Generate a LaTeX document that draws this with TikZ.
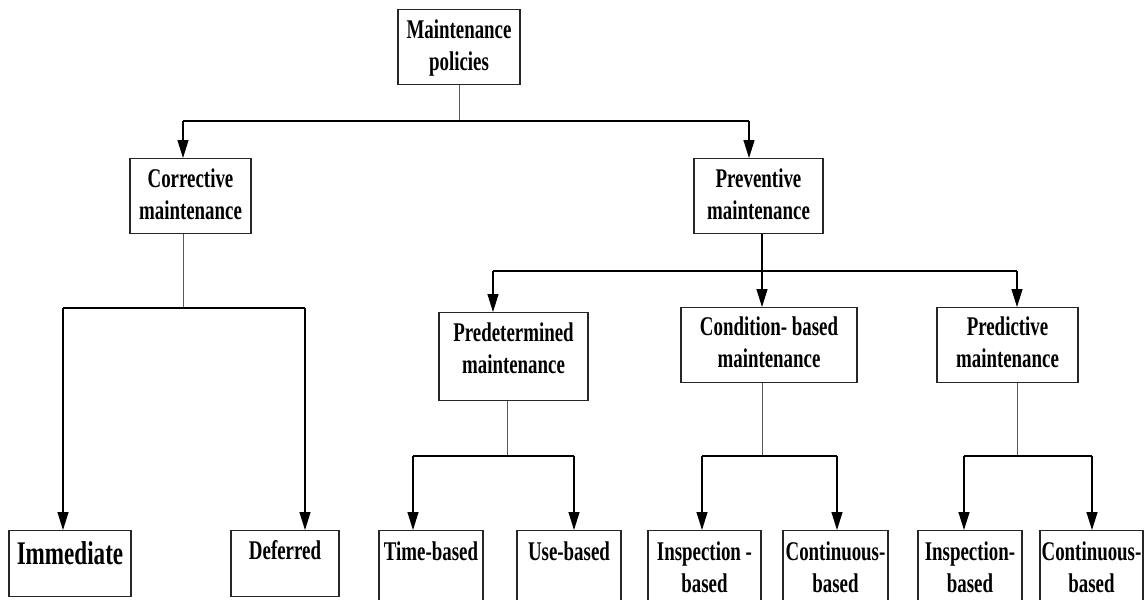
\documentclass[tikz,border=0pt]{standalone}
\usepackage{fontspec}
\newfontfamily\boxfont{Liberation Serif}[FakeStretch=0.7]
\usetikzlibrary{arrows.meta}

\begin{document}
\begin{tikzpicture}[x=1pt,y=-1pt,
  box/.style={draw=black!85,line width=1.2pt,align=center,inner sep=0pt,anchor=north,
    font=\boxfont\bfseries\fontsize{27}{32}\selectfont},
  stem/.style={line width=1pt,black!65},
  bus/.style={line width=1.3pt},
  arr/.style={line width=1.3pt,-{Triangle[length=18pt,width=11pt]}}]
  \path[use as bounding box,fill=white] (0,0) rectangle (1144,600);

  \node[box,minimum width=122pt,text height=61pt,text depth=14pt] (pol) at (459,9) {Maintenance\\policies};
  \node[box,minimum width=121pt,text height=61pt,text depth=14pt] (cor) at (190.5,158) {Corrective\\maintenance};
  \node[box,minimum width=129pt,text height=61pt,text depth=14pt] (pre) at (758.5,158) {Preventive\\maintenance};
  \node[box,minimum width=149pt,text height=61pt,text depth=27pt] (pdm) at (513.5,312) {Predetermined\\maintenance};
  \node[box,minimum width=176pt,text height=60pt,text depth=15pt] (cbm) at (769,307) {Condition- based\\maintenance};
  \node[box,minimum width=141pt,text height=60pt,text depth=15pt] (pdt) at (1007.5,307) {Predictive\\maintenance};

  \node[box,minimum width=122pt,text height=34pt,text depth=32pt,font=\boxfont\bfseries\fontsize{33}{38}\selectfont] (imm) at (70,530) {Immediate};
  \node[box,minimum width=108pt,text height=29pt,text depth=37pt] (dfr) at (285,530) {Deferred};
  \node[box,minimum width=104pt,text height=30pt,text depth=45pt] (tim) at (431,530) {Time-based};
  \node[box,minimum width=104pt,text height=30pt,text depth=45pt] (use) at (569,530) {Use-based};
  \node[box,minimum width=113pt,text height=62pt,text depth=13pt] (ins1) at (704.5,530) {Inspection -\\based};
  \node[box,minimum width=105pt,text height=62pt,text depth=13pt] (cnt1) at (835.5,530) {Continuous-\\based};
  \node[box,minimum width=104pt,text height=62pt,text depth=13pt] (ins2) at (970,530) {Inspection-\\based};
  \node[box,minimum width=103pt,text height=62pt,text depth=13pt] (cnt2) at (1091.5,530) {Continuous-\\based};

  % policies -> corrective / preventive
  \coordinate (polL) at (183,121);
  \coordinate (polR) at (749,121);
  \draw[stem] (pol.south) -- (pol.south |- polL);
  \draw[bus] (polL) -- (polR);
  \draw[arr] (polL) -- (polL |- cor.north);
  \draw[arr] (polR) -- (polR |- pre.north);

  % corrective
  \coordinate (corS) at (183,308);
  \coordinate (corL) at (63,308);
  \coordinate (corR) at (305,308);
  \draw[stem] (corS |- cor.south) -- (corS);
  \draw[bus] (corL) -- (corR);
  \draw[arr] (corL) -- (corL |- imm.north);
  \draw[arr] (corR) -- (corR |- dfr.north);

  % preventive
  \coordinate (preS) at (762,271);
  \coordinate (preL) at (493,271);
  \coordinate (preR) at (1017,271);
  \draw[arr] (preS |- pre.south) -- (preS |- cbm.north);
  \draw[bus] (preL) -- (preR);
  \draw[arr] (preL) -- (preL |- pdm.north);
  \draw[arr] (preR) -- (preR |- pdt.north);

  % predetermined
  \coordinate (pdmS) at (507,456);
  \coordinate (pdmL) at (413,456);
  \coordinate (pdmR) at (574,456);
  \draw[stem] (pdmS |- pdm.south) -- (pdmS);
  \draw[bus] (pdmL) -- (pdmR);
  \draw[arr] (pdmL) -- (pdmL |- tim.north);
  \draw[arr] (pdmR) -- (pdmR |- use.north);

  % condition-based
  \coordinate (cbmS) at (762,456);
  \coordinate (cbmL) at (702,456);
  \coordinate (cbmR) at (837,456);
  \draw[stem] (cbmS |- cbm.south) -- (cbmS);
  \draw[bus] (cbmL) -- (cbmR);
  \draw[arr] (cbmL) -- (cbmL |- ins1.north);
  \draw[arr] (cbmR) -- (cbmR |- cnt1.north);

  % predictive
  \coordinate (pdtS) at (1017,456);
  \coordinate (pdtL) at (964,456);
  \coordinate (pdtR) at (1092,456);
  \draw[stem] (pdtS |- pdt.south) -- (pdtS);
  \draw[bus] (pdtL) -- (pdtR);
  \draw[arr] (pdtL) -- (pdtL |- ins2.north);
  \draw[arr] (pdtR) -- (pdtR |- cnt2.north);
\end{tikzpicture}
\end{document}
